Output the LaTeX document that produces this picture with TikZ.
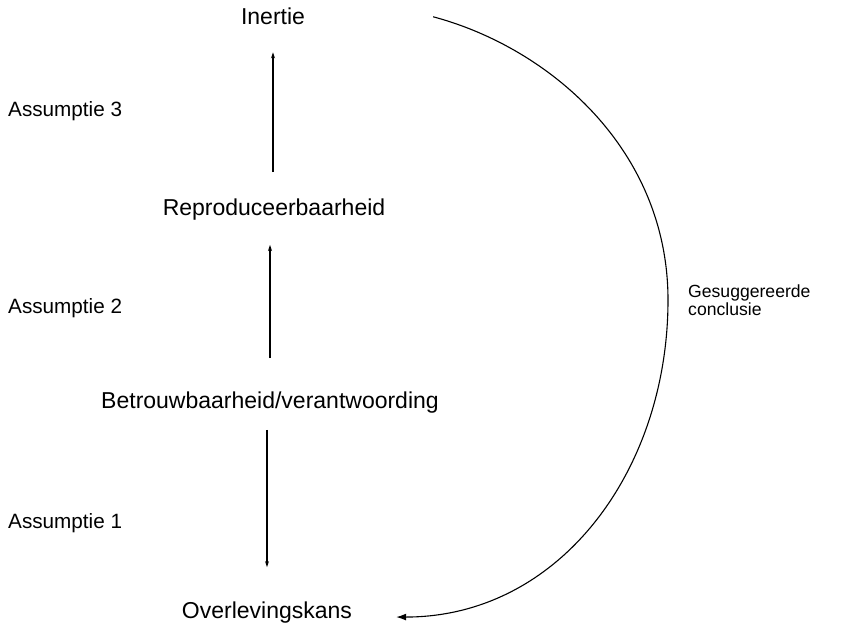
\documentclass[tikz,border=0pt]{standalone}
\usepackage{fontspec}
\setmainfont{Liberation Sans}
\usetikzlibrary{arrows.meta}

\begin{document}
\begin{tikzpicture}[x=1pt,y=-1pt]
	\tikzset{every node/.style={inner sep=0pt},
		lbl/.style={anchor=base,font=\fontsize{23}{26}\selectfont},
		asm/.style={anchor=base west,font=\fontsize{20.7}{23}\selectfont},
		arr/.style={line width=1.4pt,-{Stealth[length=6pt,width=4pt]}},
		bow/.style={line width=1.1pt,-{Latex[length=10pt,width=7pt]}}}
	\useasboundingbox (0,0) rectangle (848,623);
	% labels in the middle column
	\node[lbl] (inertie) at (273,25) {Inertie};
	\node[lbl] (repro) at (274,215) {Reproduceerbaarheid};
	\node[lbl] (betrouw) at (270,408) {Betrouwbaarheid/verantwoording};
	\node[lbl] (overl) at (267,618) {Overlevingskans};
	% assumptions on the left
	\node[asm] (asm3) at (8,117) {Assumptie 3};
	\node[asm] (asm2) at (8,313) {Assumptie 2};
	\node[asm] (asm1) at (8,528) {Assumptie 1};
	\node[anchor=west,align=left,font=\fontsize{17.6}{17.5}\selectfont] (concl) at (688,300) {Gesuggereerde\\conclusie};
	% arrows
	\draw[arr,shorten <=26pt,shorten >=27pt] (repro.north -| inertie.south) -- (inertie.south);
	\draw[arr,shorten <=33pt,shorten >=25pt] (betrouw.north) -- (repro.south -| betrouw.north);
	\draw[arr,shorten <=17pt,shorten >=34pt] (betrouw.south -| overl.north) -- (overl.north);
	\draw[bow] ([xshift=128pt]inertie.east) .. controls (550,48) and (668,150) .. (668,300)
		.. controls (668,470) and (560,617) .. ([xshift=44pt,yshift=-5pt]overl.east);
\end{tikzpicture}
\end{document}
